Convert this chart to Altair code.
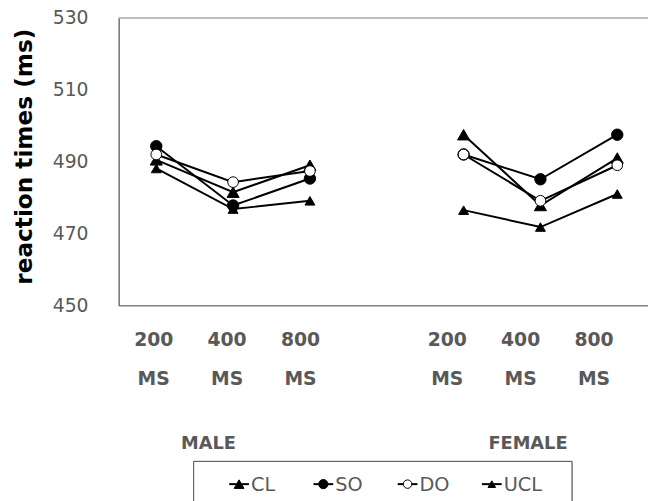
import altair as alt
import pandas as pd

# ---- data ----
series = ["CL", "SO", "DO", "UCL"]
groups = ["MALE", "FEMALE"]
delays = ["200", "400", "800"]
unit = "MS"
y_ticks = [450, 470, 490, 510, 530]

cl_male = [490.5, 481.5, 489.0]
cl_female = [497.5, 477.8, 491.0]
so_male = [494.3, 477.8, 485.3]
so_female = [492.0, 485.1, 497.5]
do_male = [492.0, 484.3, 487.4]
do_female = [492.0, 479.1, 489.0]
ucl_male = [488.1, 476.8, 479.1]
ucl_female = [476.5, 471.8, 481.0]

values = {
    "CL": [cl_male, cl_female],
    "SO": [so_male, so_female],
    "DO": [do_male, do_female],
    "UCL": [ucl_male, ucl_female],
}

rows = []
for s in series:
    for gi, g in enumerate(groups):
        for ci, d in enumerate(delays):
            rows.append({"series": s, "group": g, "delay": d,
                         "pos": gi * 4 + ci, "value": values[s][gi][ci],
                         "line_id": f"{s}-{g}"})
df = pd.DataFrame(rows)

lab_rows = []
for gi, g in enumerate(groups):
    for ci, d in enumerate(delays):
        lab_rows.append({"pos": gi * 4 + ci, "delay": d, "unit": unit})
lab_df = pd.DataFrame(lab_rows)

grp_df = pd.DataFrame({"group": groups, "start": [gi * 4 - 0.5 for gi in range(len(groups))]})
leg_df = pd.DataFrame({"series": series, "idx": list(range(len(series)))})

# ---- styles ----
FONT = "DejaVu Sans"
GRAY = "#595959"
LEFT_C = "#262626"
BOTTOM_C = "#404040"
TOP_C = "#a6a6a6"
W, H = 536, 291

x_main = alt.Scale(domain=[-0.49, 6.4], nice=False, zero=False)
x_lab = alt.Scale(domain=[-0.478, 6.736], nice=False, zero=False)
x_leg = alt.Scale(domain=[-1.43, 4.854], nice=False, zero=False)
y_scale = alt.Scale(domain=[450, 530], nice=False, zero=False)

shape_scale = alt.Scale(domain=series, range=["triangle-up", "circle", "circle", "triangle-up"])
fill_scale = alt.Scale(domain=series, range=["black", "black", "white", "black"])
size_scale = alt.Scale(domain=series, range=[150, 100, 100, 150])
leg_size_scale = alt.Scale(domain=series, range=[100, 60, 60, 100])

lines = alt.Chart(df).mark_line(color="black", strokeWidth=2).encode(
    x=alt.X("pos:Q", scale=x_main,
            axis=alt.Axis(labels=False, ticks=False, grid=False, title=None,
                          domainColor=BOTTOM_C, domainWidth=1)),
    y=alt.Y("value:Q", scale=y_scale,
            axis=alt.Axis(values=y_ticks, grid=False, ticks=False, labelPadding=31,
                          labelFont=FONT, labelFontSize=19, labelColor=GRAY,
                          domainColor=LEFT_C, domainWidth=1,
                          title="reaction times (ms)", titleFont=FONT, titleFontSize=23.5,
                          titleFontWeight="bold", titleColor="black",
                          titleX=-95, titleY=140, titleBaseline="middle")),
    detail="line_id:N",
)

points = alt.Chart(df).mark_point(stroke="black", strokeWidth=1, opacity=1).encode(
    x=alt.X("pos:Q", scale=x_main),
    y=alt.Y("value:Q", scale=y_scale),
    shape=alt.Shape("series:N", scale=shape_scale, legend=None),
    fill=alt.Fill("series:N", scale=fill_scale, legend=None),
    size=alt.Size("series:N", scale=size_scale, legend=None),
)

top_rule = alt.Chart(grp_df).mark_rule(color=TOP_C, strokeWidth=1).encode(
    x=alt.datum(-0.49, scale=x_main), x2=alt.datum(6.4), y=alt.datum(530, scale=y_scale)
)

grp_text = alt.Chart(grp_df).mark_text(
    align="left", baseline="middle", dx=64, font=FONT, fontSize=18,
    fontWeight="bold", color=GRAY
).encode(x=alt.X("start:Q", scale=x_main), y=alt.value(431), text="group:N")

inner = alt.layer(lines, points, top_rule, grp_text)

lab1 = alt.Chart(lab_df).mark_text(
    baseline="middle", font=FONT, fontSize=19, fontWeight="bold", color=GRAY
).encode(x=alt.X("pos:Q", scale=x_lab, axis=None), y=alt.value(326), text="delay:N")
lab2 = alt.Chart(lab_df).mark_text(
    baseline="middle", font=FONT, fontSize=19, fontWeight="bold", color=GRAY
).encode(x=alt.X("pos:Q", scale=x_lab, axis=None), y=alt.value(366), text="unit:N")
labels = alt.layer(lab1, lab2)

# ---- legend (box + line/marker symbols + labels) ----
leg_box = alt.Chart(grp_df).mark_rect(fill="white", stroke=GRAY, strokeWidth=1).encode(
    x=alt.value(76), x2=alt.value(459), y=alt.value(449), y2=alt.value(520)
)
leg_line = alt.Chart(leg_df).mark_tick(orient="horizontal", size=20, thickness=2,
                                       color="black", opacity=1).encode(
    x=alt.X("idx:Q", scale=x_leg, axis=None), y=alt.value(472)
)
leg_pt = alt.Chart(leg_df).mark_point(stroke="black", strokeWidth=1, opacity=1).encode(
    x=alt.X("idx:Q", scale=x_leg, axis=None), y=alt.value(472),
    shape=alt.Shape("series:N", scale=shape_scale, legend=None),
    fill=alt.Fill("series:N", scale=fill_scale, legend=None),
    size=alt.Size("series:N", scale=leg_size_scale, legend=None),
)
leg_txt = alt.Chart(leg_df).mark_text(
    align="left", baseline="middle", dx=12, font=FONT, fontSize=19.5, color=GRAY
).encode(x=alt.X("idx:Q", scale=x_leg, axis=None), y=alt.value(473), text="series:N")
legend = alt.layer(leg_box, leg_line, leg_pt, leg_txt)

chart = alt.layer(inner, labels, legend).resolve_scale(
    x="independent", size="independent"
).properties(
    width=W, height=H,
    autosize=alt.AutoSizeParams(type="none"),
    padding={"left": 112, "top": 7, "right": 0, "bottom": 195},
).configure_view(stroke=None)

chart.save("out.html", embed_options={"renderer": "svg", "actions": False})
